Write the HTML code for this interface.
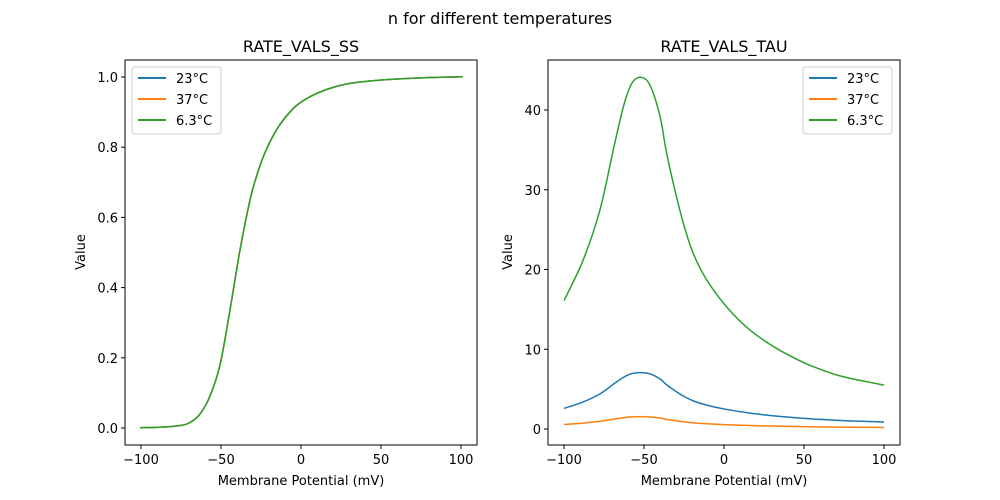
<!DOCTYPE html>
<html><head><meta charset="utf-8"><style>body{margin:0;background:#fff}svg{display:block;font-family:"DejaVu Sans","Liberation Sans",sans-serif}</style></head>
<body>
<svg id="s" width="1000" height="500" xmlns="http://www.w3.org/2000/svg">
<rect width="1000" height="500" fill="#fff"/>
<text x="500" y="24" font-size="16" text-anchor="middle">n for different temperatures</text>
<text x="301" y="52" font-size="16" text-anchor="middle">RATE_VALS_SS</text>
<text x="724" y="52" font-size="16" text-anchor="middle">RATE_VALS_TAU</text>
<g id="g"></g>
<rect x="125" y="60" width="352" height="385" fill="none" stroke="#000" stroke-width="1"/>
<rect x="548" y="60" width="352" height="385" fill="none" stroke="#000" stroke-width="1"/>
<text x="301" y="485" font-size="13" text-anchor="middle">Membrane Potential (mV)</text>
<text x="724" y="485" font-size="13" text-anchor="middle">Membrane Potential (mV)</text>
<text transform="translate(85,252) rotate(-90)" font-size="13" text-anchor="middle">Value</text>
<text transform="translate(512,252) rotate(-90)" font-size="13" text-anchor="middle">Value</text>
<g font-size="13">
<rect x="132" y="67" width="89" height="67" rx="3" fill="#fff" stroke="#ccc"/>
<line x1="138" y1="78" x2="166" y2="78" stroke="#1f77b4" stroke-width="2"/><text x="176" y="83">23°C</text>
<line x1="138" y1="99" x2="166" y2="99" stroke="#ff7f0e" stroke-width="2"/><text x="176" y="104">37°C</text>
<line x1="138" y1="120" x2="166" y2="120" stroke="#2ca02c" stroke-width="2"/><text x="176" y="125">6.3°C</text>
<rect x="803" y="67" width="89" height="67" rx="3" fill="#fff" stroke="#ccc"/>
<line x1="809" y1="78" x2="837" y2="78" stroke="#1f77b4" stroke-width="2"/><text x="847" y="83">23°C</text>
<line x1="809" y1="99" x2="837" y2="99" stroke="#ff7f0e" stroke-width="2"/><text x="847" y="104">37°C</text>
<line x1="809" y1="120" x2="837" y2="120" stroke="#2ca02c" stroke-width="2"/><text x="847" y="125">6.3°C</text>
</g>
</svg>
<script>
var NS="http://www.w3.org/2000/svg",g=document.getElementById("g");
function el(t,a,txt){var e=document.createElementNS(NS,t);for(var k in a)e.setAttribute(k,a[k]);if(txt!=null)e.textContent=txt;g.appendChild(e);return e;}
function smooth(P){var d="M"+P[0][0]+","+P[0][1];for(var i=0;i<P.length-1;i++){var p0=P[Math.max(i-1,0)],p1=P[i],p2=P[i+1],p3=P[Math.min(i+2,P.length-1)];
 d+=" C"+(p1[0]+(p2[0]-p0[0])/6)+","+(p1[1]+(p2[1]-p0[1])/6)+" "+(p2[0]-(p3[0]-p1[0])/6)+","+(p2[1]-(p3[1]-p1[1])/6)+" "+p2[0]+","+p2[1];}return d;}
[[141,301],[564,724]].forEach(function(p){
 [-100,-50,0,50,100].forEach(function(v){var x=p[0]+(v+100)*1.6;
 el("line",{x1:x,y1:445,x2:x,y2:449,stroke:"#000"});
 el("text",{x:x,y:464,"font-size":13,"text-anchor":"middle"},v<0?"\u2212"+(-v):""+v);});
});
[0,0.2,0.4,0.6,0.8,1.0].forEach(function(v){var y=428-351*v;
 el("line",{x1:121,y1:y,x2:125,y2:y,stroke:"#000"});
 el("text",{x:118,y:y+5,"font-size":13,"text-anchor":"end"},v.toFixed(1));});
[0,10,20,30,40].forEach(function(v){var y=429-7.975*v;
 el("line",{x1:544,y1:y,x2:548,y2:y,stroke:"#000"});
 el("text",{x:541,y:y+5,"font-size":13,"text-anchor":"end"},""+v);});
var ss=[[140,427.7],[160,427.3],[180,425.5],[190,422.5],[200,414],[210,396],[220,365],[230,310],[240,250],[250,200],[256,178],[263.3,156.7],[273,136],[283.3,120],[296,106],[310,96.7],[328,89],[346.7,84],[370,81],[396.7,79],[430,77.5],[463,76.7]];
["#1f77b4","#ff7f0e","#2ca02c"].forEach(function(c){
 el("path",{d:smooth(ss),fill:"none",stroke:c,"stroke-width":1.5});});
var tau=[[-100,16.1],[-88,21.2],[-77.5,27.5],[-69.2,35],[-62.9,40.4],[-57.7,43.3],[-52.1,44.1],[-46.2,43.1],[-40,39.2],[-36.25,35.0],[-31.7,30.8],[-25.4,25.8],[-19.2,22.0],[-10.8,18.7],[1.7,15.3],[16.25,12.4],[32.9,10.1],[50,8.3],[60,7.5],[70,6.8],[80,6.3],[90,5.9],[100,5.5]];
[[1/6.24,"#1f77b4"],[1/28.5,"#ff7f0e"],[1,"#2ca02c"]].forEach(function(s){
 el("path",{d:smooth(tau.map(function(p){return [564+(p[0]+100)*1.6,429-7.975*p[1]*s[0]]})),fill:"none",stroke:s[1],"stroke-width":1.5});});
</script>
</body></html>
